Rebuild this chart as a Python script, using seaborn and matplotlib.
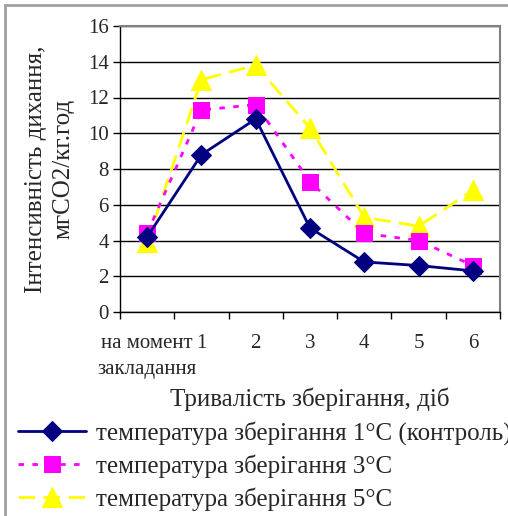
import matplotlib
matplotlib.use("Agg")
import matplotlib.pyplot as plt
import seaborn as sns
import numpy as np
import pandas as pd
from matplotlib.patches import Rectangle

sns.set_theme(style="white")
plt.rcParams['font.family'] = ['Liberation Serif', 'DejaVu Serif']

categories = ["на момент\nзакладання", "1", "2", "3", "4", "5", "6"]
temp_1c = [4.2, 8.8, 10.8, 4.7, 2.8, 2.6, 2.3]
temp_3c = [4.4, 11.3, 11.6, 7.3, 4.4, 4.0, 2.6]
temp_5c = [3.9, 13.0, 13.8, 10.3, 5.3, 4.8, 6.8]
series_names = ["температура зберігання 1°С (контроль)",
                "температура зберігання 3°С",
                "температура зберігання 5°С"]

fig = plt.figure(figsize=(5.08, 5.16), dpi=100)
ax = fig.add_axes([120/508, 1-312/516, 380/508, 286/516])

x = np.arange(len(categories))
df = pd.DataFrame({"x": x, "t1": temp_1c, "t3": temp_3c, "t5": temp_5c})

sns.lineplot(data=df, x="x", y="t1", ax=ax, color="#000080", lw=2,
             marker="D", markersize=10, markeredgecolor="#000080",
             label=series_names[0], zorder=5)
sns.lineplot(data=df, x="x", y="t3", ax=ax, color="#FF00FF", lw=2,
             marker="s", markersize=12, markeredgecolor="#FF00FF",
             dashes=(2, 3), label=series_names[1], zorder=4)
sns.lineplot(data=df, x="x", y="t5", ax=ax, color="#FFFF00", lw=2,
             marker="^", markersize=14, markeredgecolor="#FFFF00",
             dashes=(6, 3), label=series_names[2], zorder=3)

ax.set_xlim(-0.5, len(categories) - 0.5)
ax.set_ylim(0, 16)
ax.set_yticks(np.arange(0, 17, 2))
ax.set_xticks(np.arange(-0.5, len(categories), 1.0))
ax.set_xticklabels([])
ax.set_xticks(x, minor=True)
ax.set_xticklabels(categories, minor=True)
ax.tick_params(axis="x", which="major", direction="out", length=5, width=1,
               color="black", bottom=True)
ax.tick_params(axis="x", which="minor", length=0, pad=16)
ax.tick_params(axis="y", direction="out", length=5, width=1, color="black",
               left=True, labelsize=15, pad=3)
for lab in ax.get_xticklabels(minor=True):
    lab.set_fontsize(15)
ax.get_xticklabels(minor=True)[0].set_linespacing(1.5)

ax.yaxis.grid(True, color="black", lw=1)
ax.set_axisbelow(True)
for side in ["top", "right"]:
    ax.spines[side].set_color("#808080")
    ax.spines[side].set_linewidth(1.5)
for side in ["left", "bottom"]:
    ax.spines[side].set_color("black")
    ax.spines[side].set_linewidth(1)

ax.set_xlabel("Тривалість зберігання, діб", fontsize=18, labelpad=6)
ax.set_ylabel("Інтенсивність дихання,\nмгСО2/кг.год", fontsize=18, labelpad=10,
              linespacing=1.3)

ax.get_legend().remove()
handles, labels = ax.get_legend_handles_labels()
fig.legend(handles, labels, loc="upper left", bbox_to_anchor=(18/508, 1-421/516),
           frameon=False, fontsize=18, handlelength=2.7, handletextpad=0.4,
           labelspacing=0.38, borderaxespad=0, borderpad=0)

fig.patches.append(Rectangle((5/508, -0.1), 1.2, 1 - 5/516 + 0.1,
                             transform=fig.transFigure, fill=False,
                             edgecolor="#a0a0a0", lw=2))

fig.savefig("out.png", dpi=100)
